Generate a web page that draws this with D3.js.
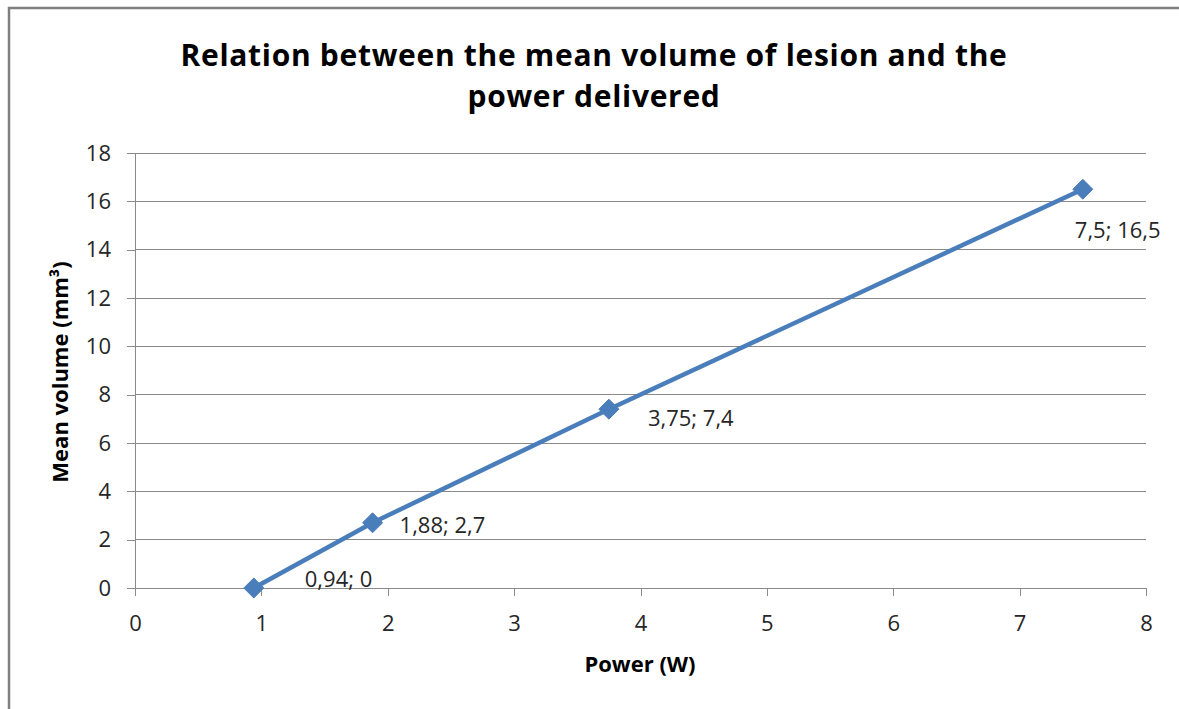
<!DOCTYPE html>
<html><head><meta charset="utf-8">
<script src="https://cdn.jsdelivr.net/npm/d3@7"></script>
<style>body{margin:0;background:#fff;} svg{display:block;}</style>
</head><body>
<svg id="c" width="1179" height="709"></svg>
<script>
const titleLines = ["Relation between the mean volume of lesion and the", "power delivered"];
const xTitle = "Power (W)";
const yTitle = "Mean volume (mm³)";
const power = [0.94, 1.88, 3.75, 7.5];
const volume = [0, 2.7, 7.4, 16.5];
const pointLabels = ["0,94; 0", "1,88; 2,7", "3,75; 7,4", "7,5; 16,5"];
const xTicks = [0,1,2,3,4,5,6,7,8];
const yTicks = [0,2,4,6,8,10,12,14,16,18];

const labelOffsets = [[51,-9],[27,3],[39,9],[-8,41]];
const font = "'Open Sans', Lato, sans-serif";

const svg = d3.select("#c");
svg.append("rect").attr("x",9).attr("y",8).attr("width",1200).attr("height",750)
  .attr("fill","#fff").attr("stroke","#7f7f7f").attr("stroke-width",2.5);

const L=135,R=1146,T=153,B=588;
const x = d3.scaleLinear().domain([0,8]).range([L,R]);
const y = d3.scaleLinear().domain([0,18]).range([B,T]);

svg.append("g").selectAll("line").data(yTicks.filter(d=>d>0)).join("line")
  .attr("x1",L).attr("x2",R).attr("y1",d=>y(d)).attr("y2",d=>y(d))
  .attr("stroke","#8a8a8a").attr("stroke-width",1).attr("shape-rendering","crispEdges");

const gy = svg.append("g").attr("transform",`translate(${L},0)`)
  .call(d3.axisLeft(y).tickValues(yTicks).tickSize(8).tickPadding(16).tickFormat(d3.format("d")));
const gx = svg.append("g").attr("transform",`translate(0,${B})`)
  .call(d3.axisBottom(x).tickValues(xTicks).tickSize(8).tickPadding(19).tickFormat(d3.format("d")));
[gx,gy].forEach(g=>{
  g.select(".domain").attr("stroke","#8a8a8a").attr("shape-rendering","crispEdges");
  g.selectAll(".tick line").attr("stroke","#8a8a8a").attr("shape-rendering","crispEdges");
  g.selectAll("text").attr("font-family",font).attr("font-size",22).attr("fill","#262626");
});
gx.select(".domain").attr("d",`M${L},0H${R}`);
gy.select(".domain").attr("d",`M0,${B}V${T}`);

const pts = power.map((p,i)=>[p,volume[i]]);
svg.append("path").datum(pts)
  .attr("d",d3.line().x(d=>x(d[0])).y(d=>y(d[1])))
  .attr("fill","none").attr("stroke","#4a7ebb").attr("stroke-width",4.5).attr("stroke-linejoin","round");

svg.append("g").selectAll("path").data(pts).join("path")
  .attr("transform",d=>`translate(${x(d[0])},${y(d[1])})`)
  .attr("d","M0,-10L10,0L0,10L-10,0Z").attr("fill","#4a7ebb").attr("stroke","#4a7ebb").attr("stroke-width",1);

svg.append("g").selectAll("text").data(pts).join("text")
  .attr("x",(d,i)=>x(d[0])+labelOffsets[i][0])
  .attr("y",(d,i)=>y(d[1])+labelOffsets[i][1])
  .attr("dy","0.35em")
  .attr("font-family",font).attr("font-size",22).attr("fill","#262626")
  .text((d,i)=>pointLabels[i]);

svg.append("g").selectAll("text").data(titleLines).join("text")
  .attr("x",594).attr("y",(d,i)=>66+i*41).attr("text-anchor","middle")
  .attr("font-family",font).attr("font-weight","bold").attr("font-size",30)
  .attr("letter-spacing",0.7).attr("fill","#000")
  .text(d=>d);

svg.append("text").attr("x",640).attr("y",672).attr("text-anchor","middle")
  .attr("font-family",font).attr("font-weight","bold").attr("font-size",22).attr("fill","#000").text(xTitle);

svg.append("text").attr("transform","translate(68,372) rotate(-90)").attr("text-anchor","middle")
  .attr("font-family",font).attr("font-weight","bold").attr("font-size",22).attr("fill","#000").text(yTitle);
</script>
</body></html>
